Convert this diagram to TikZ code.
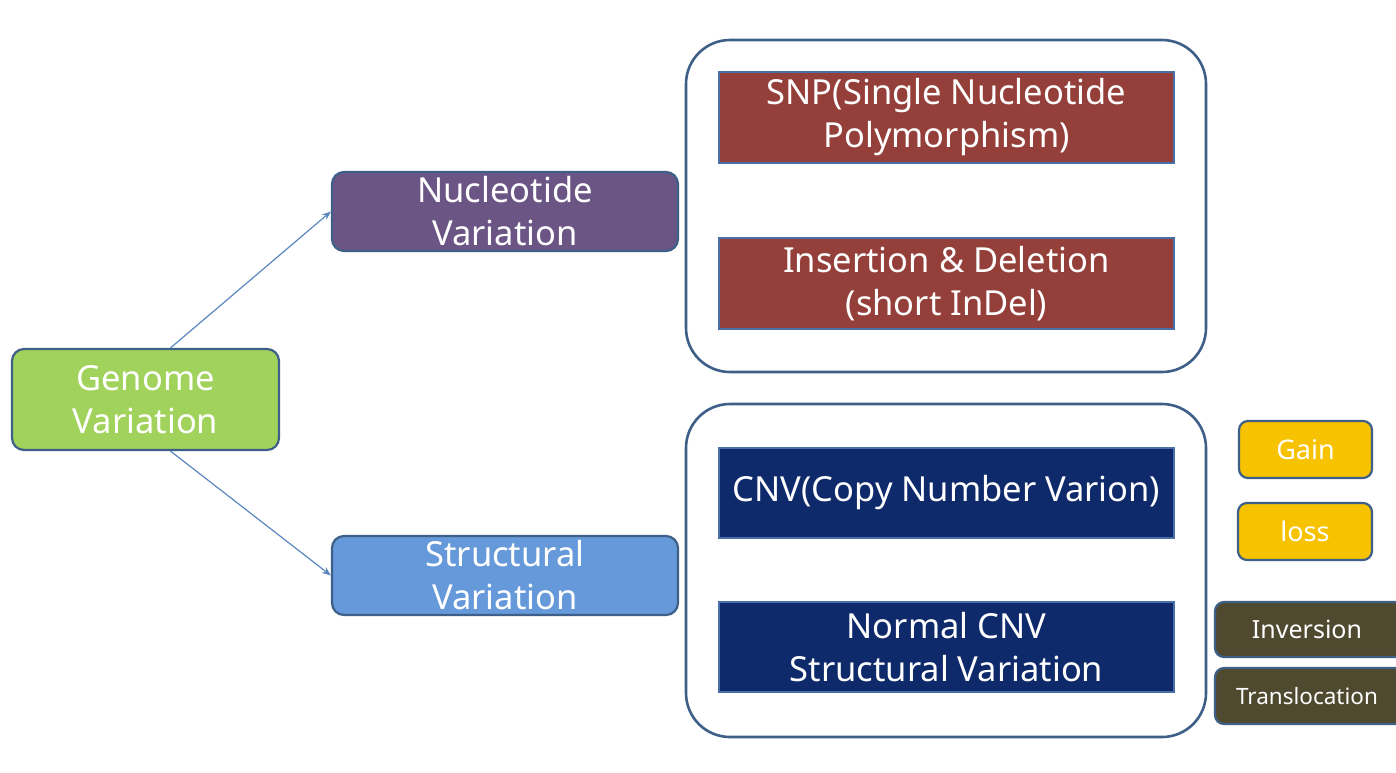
\documentclass[tikz,border=0pt]{standalone}
\usepackage{fontspec}
\setmainfont{Noto Sans}
\usetikzlibrary{arrows.meta}
\definecolor{bordc}{HTML}{3E5F87}
\definecolor{greenf}{HTML}{A1D25B}
\definecolor{purplef}{HTML}{6A5585}
\definecolor{bluef}{HTML}{6699DA}
\definecolor{redf}{HTML}{943F3A}
\definecolor{navyf}{HTML}{0F2A6B}
\definecolor{goldf}{HTML}{F7C200}
\definecolor{olivef}{HTML}{4F4A2F}
\definecolor{arrowc}{HTML}{5B87BF}
\definecolor{innerb}{HTML}{4A6EA8}
\tikzset{
  bigtext/.style={font=\fontsize{34.5}{43}\selectfont, text=white, align=center},
  catbox/.style={draw=bordc, line width=2.2pt, rounded corners=12pt, inner sep=0pt, bigtext},
  leafbox/.style={draw=innerb, line width=2pt, inner sep=0pt, bigtext},
  group/.style={draw=bordc, line width=2.6pt, rounded corners=44pt},
  tagbox/.style={draw=bordc, line width=2.2pt, rounded corners=9pt, inner sep=0pt, text=white, align=center},
  conn/.style={draw=arrowc, line width=1.2pt, -{Stealth[length=9pt,width=7pt]}}
}
\begin{document}
\begin{tikzpicture}[x=1pt,y=-1pt]
\useasboundingbox (0,0) rectangle (1396,772);
\clip (0,0) rectangle (1396,772);
\fill[white] (0,0) rectangle (1396,772);
% group frames
\node[group, minimum width=520pt, minimum height=332pt] (g1) at (946,206) {};
\node[group, minimum width=520pt, minimum height=333pt] (g2) at (946,570.5) {};
% main boxes
\node[catbox, fill=greenf, minimum width=267pt, minimum height=101pt] (genome) at (145.5,399.5) {Genome\\Variation};
\node[catbox, fill=purplef, minimum width=346pt, minimum height=79pt] (nuc) at (505,211.5) {Nucleotide\\Variation};
\node[catbox, fill=bluef, minimum width=346pt, minimum height=79pt] (struc) at (505,575.5) {Structural\\Variation};
% leaf boxes
\node[leafbox, fill=redf, minimum width=455pt, minimum height=91pt] (snp) at (946.5,117.5) {SNP(Single Nucleotide\\Polymorphism)};
\node[leafbox, fill=redf, minimum width=455pt, minimum height=91pt] (indel) at (946.5,283.5) {Insertion \& Deletion\\(short InDel)};
\node[leafbox, fill=navyf, minimum width=455pt, minimum height=90pt] (cnv) at (946.5,493) {CNV(Copy Number Varion)};
\node[leafbox, fill=navyf, minimum width=455pt, minimum height=90pt] (ncnv) at (946.5,647) {Normal CNV\\Structural Variation};
% tags
\node[tagbox, fill=goldf, minimum width=133pt, minimum height=57pt, font=\fontsize{27}{32}\selectfont] (gain) at (1305.5,449.5) {Gain};
\node[tagbox, fill=goldf, minimum width=134pt, minimum height=57pt, font=\fontsize{27}{32}\selectfont] (loss) at (1305,531.5) {loss};
\node[tagbox, fill=olivef, minimum width=192pt, minimum height=55pt, font=\fontsize{25}{30}\selectfont] (inv) at (1311,629.5) {\hspace*{-8pt}Inversion};
\node[tagbox, fill=olivef, minimum width=192pt, minimum height=56pt, font=\fontsize{22.5}{27}\selectfont] (trans) at (1311,696) {\hspace*{-8pt}Translocation};
% connectors
\coordinate (gtop) at ([xshift=25pt]genome.north);
\coordinate (gbot) at ([xshift=25pt]genome.south);
\draw[conn] (gtop) -- (nuc.west);
\draw[conn] (gbot) -- (struc.west);
\end{tikzpicture}
\end{document}
